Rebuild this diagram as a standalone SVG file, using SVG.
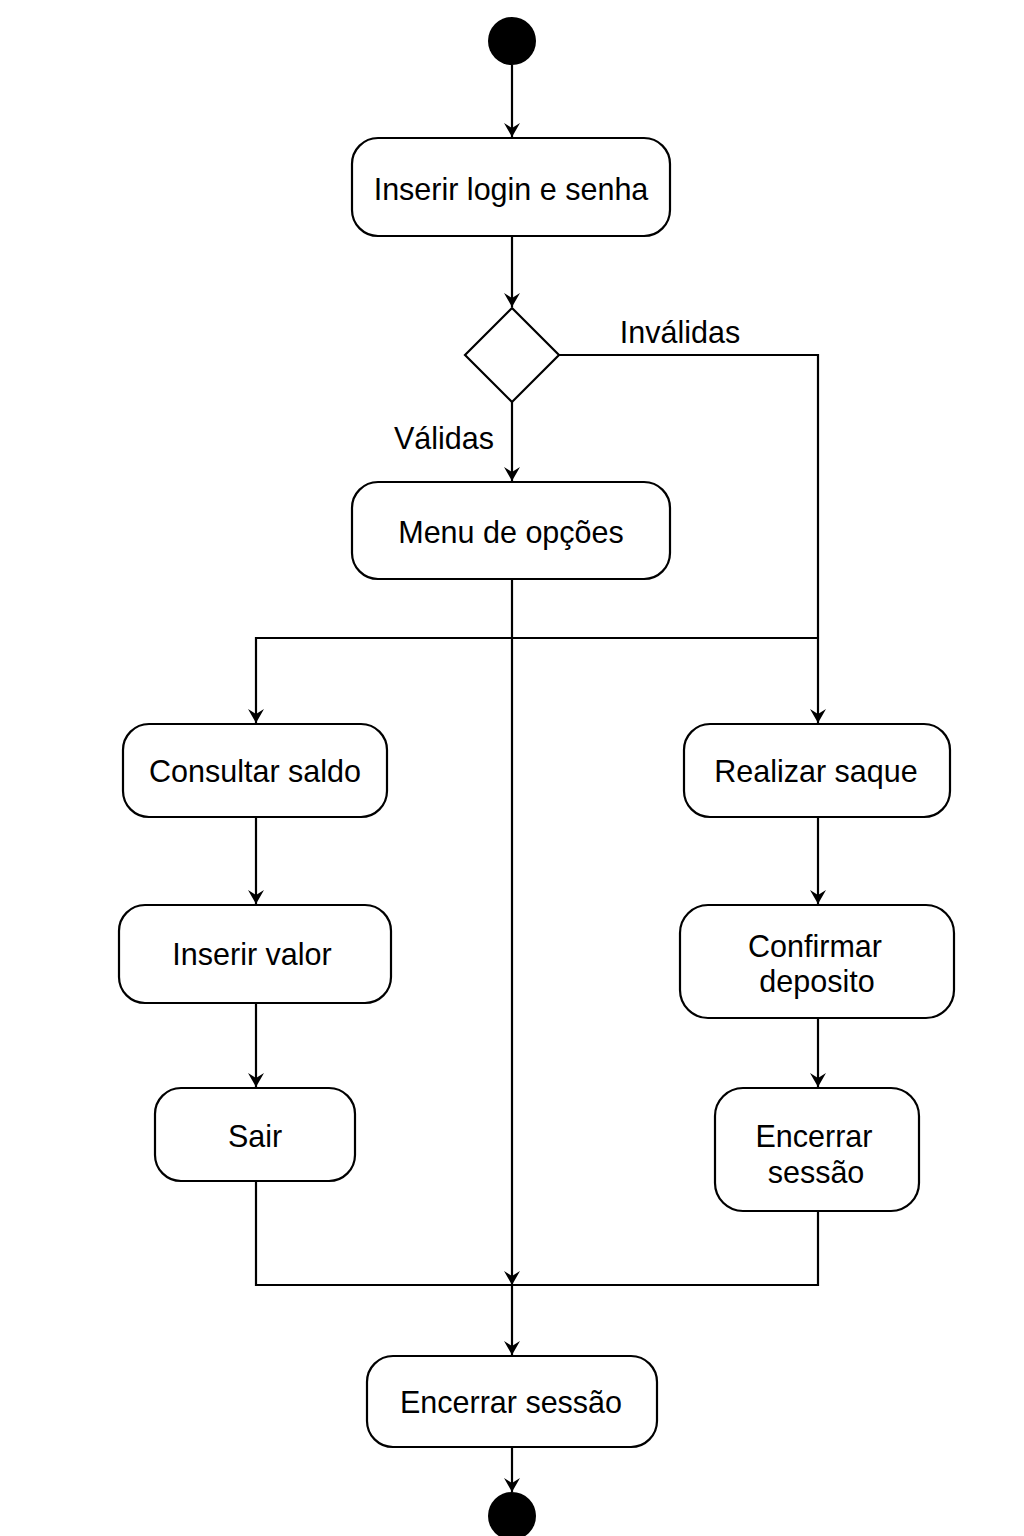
<svg xmlns="http://www.w3.org/2000/svg" width="1024" height="1536" viewBox="0 0 1024 1536">
<style>
.node rect{fill:#fff;stroke:#000;stroke-width:2.2}
.node polygon{fill:#fff;stroke:#000;stroke-width:2.2}
text{font-family:"Liberation Sans",Arial,sans-serif;font-size:30.5px;fill:#000;text-anchor:middle}
.edge{fill:none;stroke:#000;stroke-width:2.2}
</style>
<defs>
<marker id="arr" viewBox="0 0 14 16" refX="14" refY="8" markerWidth="14" markerHeight="16" markerUnits="userSpaceOnUse" orient="auto">
<path d="M0,0 L14,8 L0,16 L5,8 Z" fill="#000"/>
</marker>
</defs>
<rect width="1024" height="1536" fill="#fff"/>
<g id="connectors">
<path class="edge" d="M512,65 V137" marker-end="url(#arr)"/>
<path class="edge" d="M512,236 V307" marker-end="url(#arr)"/>
<path class="edge" d="M512,402 V481" marker-end="url(#arr)"/>
<path class="edge" d="M559,355 H818 V723" marker-end="url(#arr)"/>
<path class="edge" d="M818,638 H256 V723" marker-end="url(#arr)"/>
<path class="edge" d="M512,579 V1285" marker-end="url(#arr)"/>
<path class="edge" d="M512,1285 V1355" marker-end="url(#arr)"/>
<path class="edge" d="M256,817 V904" marker-end="url(#arr)"/>
<path class="edge" d="M256,1003 V1087" marker-end="url(#arr)"/>
<path class="edge" d="M818,817 V904" marker-end="url(#arr)"/>
<path class="edge" d="M818,1018 V1087" marker-end="url(#arr)"/>
<path class="edge" d="M256,1181 V1285 H818 V1211"/>
<path class="edge" d="M512,1447 V1492" marker-end="url(#arr)"/>
<text x="680" y="343">Inválidas</text>
<text x="444" y="449">Válidas</text>
</g>
<g id="start" class="node"><circle cx="512" cy="41" r="24" fill="#000"/></g>
<g id="login" class="node"><rect x="352" y="138" width="318" height="98" rx="26"/><text x="511" y="200">Inserir login e senha</text></g>
<g id="decision" class="node"><polygon points="512,308 559,355 512,402 465,355"/></g>
<g id="menu" class="node"><rect x="352" y="482" width="318" height="97" rx="26"/><text x="511" y="543">Menu de opções</text></g>
<g id="consultar" class="node"><rect x="123" y="724" width="264" height="93" rx="26"/><text x="255" y="782">Consultar saldo</text></g>
<g id="inserirvalor" class="node"><rect x="119" y="905" width="272" height="98" rx="26"/><text x="252" y="965">Inserir valor</text></g>
<g id="sair" class="node"><rect x="155" y="1088" width="200" height="93" rx="26"/><text x="255" y="1147">Sair</text></g>
<g id="saque" class="node"><rect x="684" y="724" width="266" height="93" rx="26"/><text x="816" y="782">Realizar saque</text></g>
<g id="confirmar" class="node"><rect x="680" y="905" width="274" height="113" rx="28"/><text x="815" y="957">Confirmar</text><text x="817" y="992">deposito</text></g>
<g id="encerrar1" class="node"><rect x="715" y="1088" width="204" height="123" rx="28"/><text x="814" y="1147">Encerrar</text><text x="816" y="1183">sessão</text></g>
<g id="encerrar2" class="node"><rect x="367" y="1356" width="290" height="91" rx="26"/><text x="511" y="1413">Encerrar sessão</text></g>
<g id="end" class="node"><circle cx="512" cy="1516" r="24" fill="#000"/></g>
</svg>
